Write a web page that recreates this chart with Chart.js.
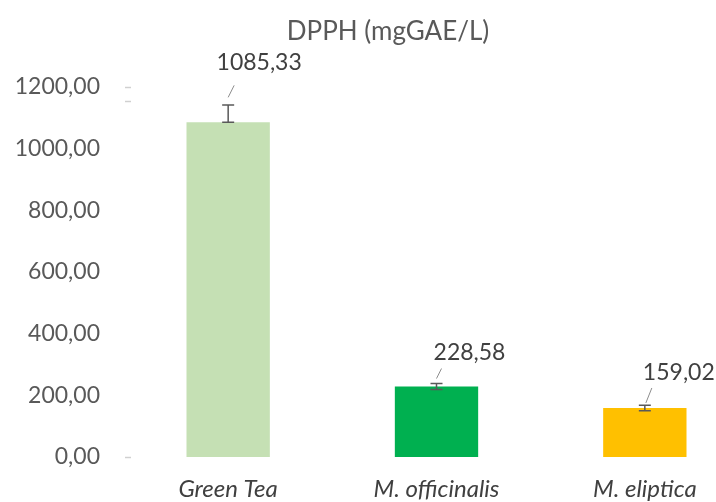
<!DOCTYPE html>
<html>
<head>
<meta charset="utf-8">
<script src="https://cdn.jsdelivr.net/npm/chart.js@4/dist/chart.umd.min.js"></script>
<style>
  html, body { margin: 0; padding: 0; background: #fff; overflow: hidden; }
  #wrap { width: 716px; height: 502px; overflow: hidden; position: relative; }
  canvas { display: block; }
</style>
</head>
<body>
<div id="wrap"><canvas id="c" width="752" height="502"></canvas></div>
<script>
// ---- data ----
const categories = ['Green Tea', 'M. officinalis', 'M. eliptica'];
const values = [1085.33, 228.58, 159.02];
const errPlus = [56, 10, 9];
const errMinus = [0, 10, 9];
const yTicks = [0, 200, 400, 600, 800, 1000, 1200];
const barColors = ['#c5e0b4', '#00b050', '#ffc000'];
const titleText = 'DPPH (mgGAE/L)';

const fmt = v => v.toFixed(2).replace('.', ',');
const FONT = 'Lato, "Open Sans", sans-serif';

// label placement styles (offset of label centre from bar top centre, leader line)
const labelStyle = [
  { dx: 31, dy: -60, l1: [0, -25], l2: [6, -37] },
  { dx: 33, dy: -34, l1: [0, -8], l2: [5, -18] },
  { dx: 34, dy: -35, l1: [1, -5], l2: [7, -20] }
];

const overlay = {
  id: 'overlay',
  afterDatasetsDraw(chart) {
    const ctx = chart.ctx;
    const y = chart.scales.y;
    const meta = chart.getDatasetMeta(0);
    ctx.save();
    // faint axis tick remnants
    ctx.strokeStyle = '#d0d0d0';
    ctx.lineWidth = 1.5;
    [1200, 1155, 0].forEach(v => {
      const py = Math.round(y.getPixelForValue(v)) + 0.5;
      ctx.beginPath(); ctx.moveTo(125, py); ctx.lineTo(131, py); ctx.stroke();
    });
    // error bars
    ctx.strokeStyle = '#595959';
    ctx.lineWidth = 1.5;
    meta.data.forEach((bar, i) => {
      const x = bar.x;
      const yt = y.getPixelForValue(values[i] + errPlus[i]);
      const yb = y.getPixelForValue(values[i] - errMinus[i]);
      ctx.beginPath();
      ctx.moveTo(x, yt); ctx.lineTo(x, yb);
      ctx.moveTo(x - 6, yt); ctx.lineTo(x + 6, yt);
      ctx.moveTo(x - 6, yb); ctx.lineTo(x + 6, yb);
      ctx.stroke();
    });
    // leader lines + labels
    meta.data.forEach((bar, i) => {
      const s = labelStyle[i];
      const x = bar.x, yt = bar.y;
      ctx.strokeStyle = '#8c8c8c';
      ctx.lineWidth = 1;
      ctx.beginPath();
      ctx.moveTo(x + s.l1[0], yt + s.l1[1]);
      ctx.lineTo(x + s.l2[0], yt + s.l2[1]);
      ctx.stroke();
      ctx.fillStyle = '#404040';
      ctx.font = '23px ' + FONT;
      ctx.textAlign = 'center';
      ctx.textBaseline = 'middle';
      ctx.fillText(fmt(values[i]), x + s.dx, yt + s.dy);
    });
    // title
    ctx.fillStyle = '#595959';
    ctx.font = '26px ' + FONT;
    ctx.textAlign = 'center';
    ctx.textBaseline = 'alphabetic';
    ctx.fillText(titleText, 388, 40);
    ctx.restore();
  }
};

new Chart(document.getElementById('c'), {
  type: 'bar',
  data: {
    labels: categories,
    datasets: [{
      data: values,
      backgroundColor: barColors,
      borderWidth: 0,
      barPercentage: 0.4,
      categoryPercentage: 1.0
    }]
  },
  options: {
    responsive: false,
    animation: false,
    devicePixelRatio: 1,
    layout: { padding: { top: 87, right: 3, bottom: 0, left: 0 } },
    plugins: { legend: { display: false }, title: { display: false }, tooltip: { enabled: false } },
    scales: {
      x: {
        grid: { display: false, drawTicks: false },
        border: { display: false },
        ticks: {
          color: '#404040',
          padding: 18,
          font: { family: FONT, size: 24, style: 'italic' }
        },
        afterFit(s) { s.height = 45; }
      },
      y: {
        min: 0, max: 1200,
        grid: { display: false, drawTicks: false },
        border: { display: false },
        afterBuildTicks(s) { s.ticks = yTicks.map(v => ({ value: v })); },
        ticks: {
          color: '#595959',
          padding: 24,
          font: { family: FONT, size: 23 },
          callback: v => fmt(v)
        },
        afterFit(s) { s.width = 124; }
      }
    }
  },
  plugins: [overlay]
});
</script>
</body>
</html>
